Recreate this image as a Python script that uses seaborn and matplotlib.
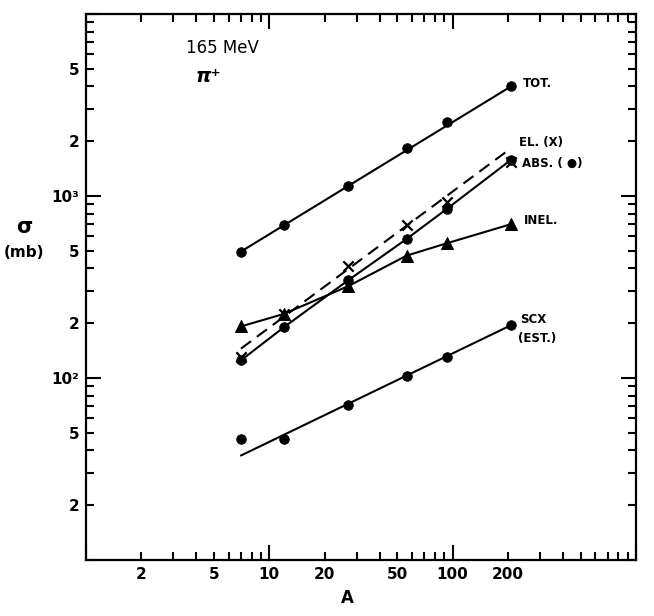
import numpy as np
import pandas as pd
import matplotlib
matplotlib.use("Agg")
import matplotlib.pyplot as plt
import matplotlib.ticker as mticker
import seaborn as sns

# ---- data ----
A = [7, 12, 27, 56, 93, 208]
tot = [495, 690, 1140, 1840, 2550, 4000]
el = [130, 225, 410, 690, 930, 1530]
absn = [125, 190, 345, 580, 850, 1580]
inel = [192, 225, 320, 470, 550, 700]
scx = [46, 46, 71, 103, 130, 195]

fit_A = [7, 208]
tot_fit = [495, 4000]
el_fit = [145, 1830]
scx_fit = [37.5, 195]

x_major_labels = {10: "10", 100: "100"}
x_minor_labels = {2: "2", 5: "5", 20: "20", 50: "50", 200: "200"}
y_major_labels = {100: "10²", 1000: "10³"}
y_minor_labels = {20: "2", 50: "5", 200: "2", 500: "5", 2000: "2", 5000: "5"}

sns.set_style("ticks")
plt.rcParams["font.family"] = ["DejaVu Sans"]
plt.rcParams["font.weight"] = "bold"
plt.rcParams["text.color"] = "black"
plt.rcParams["xtick.color"] = "black"
plt.rcParams["ytick.color"] = "black"
plt.rcParams["xtick.labelcolor"] = "black"
plt.rcParams["ytick.labelcolor"] = "black"
plt.rcParams["axes.labelcolor"] = "black"

fig = plt.figure(figsize=(6.54, 6.16), dpi=100)
ax = fig.add_axes([0.1315, 0.0909, 0.841, 0.8864])
ax.set_xscale("log")
ax.set_yscale("log")

df = pd.DataFrame({"A": A, "tot": tot, "el": el, "abs": absn, "inel": inel, "scx": scx})
fit = pd.DataFrame({"A": fit_A, "tot": tot_fit, "el": el_fit, "scx": scx_fit})

lw = 1.5
kw_line = dict(color="black", linewidth=lw, estimator=None, sort=False, ax=ax, legend=False)

# fitted lines
sns.lineplot(data=fit, x="A", y="tot", **kw_line)
sns.lineplot(data=fit, x="A", y="scx", **kw_line)
sns.lineplot(data=fit, x="A", y="el", dashes=False, **kw_line)
ax.lines[-1].set_linestyle((0, (6, 3.5)))
# connected lines
sns.lineplot(data=df, x="A", y="abs", **kw_line)
sns.lineplot(data=df, x="A", y="inel", **kw_line)

# markers
sk = dict(color="black", ax=ax, legend=False, zorder=5)
sns.scatterplot(data=df, x="A", y="tot", marker="o", s=48, edgecolor="black", **sk)
sns.scatterplot(data=df, x="A", y="abs", marker="o", s=48, edgecolor="black", **sk)
sns.scatterplot(data=df, x="A", y="scx", marker="o", s=48, edgecolor="black", **sk)
sns.scatterplot(data=df, x="A", y="inel", marker="^", s=75, edgecolor="black", **sk)
sns.scatterplot(data=df, x="A", y="el", marker="x", s=55, linewidth=1.6, **sk)

ax.set_xlim(1, 1000)
ax.set_ylim(10, 10000)

# ticks
ax.xaxis.set_major_locator(mticker.LogLocator(base=10, numticks=10))
ax.xaxis.set_minor_locator(mticker.LogLocator(base=10, subs=np.arange(2, 10), numticks=20))
ax.yaxis.set_major_locator(mticker.LogLocator(base=10, numticks=10))
ax.yaxis.set_minor_locator(mticker.LogLocator(base=10, subs=np.arange(2, 10), numticks=20))

def fmt(d):
    def f(v, pos):
        for k, s in d.items():
            if abs(v - k) / k < 1e-6:
                return s
        return ""
    return mticker.FuncFormatter(f)

ax.xaxis.set_major_formatter(fmt(x_major_labels))
ax.xaxis.set_minor_formatter(fmt(x_minor_labels))
ax.yaxis.set_major_formatter(fmt(y_major_labels))
ax.yaxis.set_minor_formatter(fmt(y_minor_labels))

ax.tick_params(which="both", direction="in", top=True, right=True, width=1.5, color="black",
               labelcolor="black", labelsize=11, pad=5)
ax.tick_params(which="major", length=11)
ax.tick_params(which="minor", length=6)
for lab in ax.get_xticklabels(which="both") + ax.get_yticklabels(which="both"):
    lab.set_fontweight("bold")

for sp in ax.spines.values():
    sp.set_linewidth(1.6)
    sp.set_color("black")

ax.set_xlabel("")
ax.set_ylabel("")
ax.text(0.475, -0.07, "A", transform=ax.transAxes, ha="center", va="center",
        fontsize=12, fontweight="bold", color="black")
ax.text(-0.113, 0.610, "σ", transform=ax.transAxes, ha="center", va="center",
        fontsize=15, color="black")
ax.text(-0.113, 0.564, "(mb)", transform=ax.transAxes, ha="center", va="center",
        fontsize=11, fontweight="bold", color="black")

# annotations
tk = dict(transform=ax.transAxes, ha="left", va="center", fontsize=8.5, fontweight="bold",
          color="black")
ax.text(0.794, 0.873, "TOT.", **tk)
ax.text(0.788, 0.765, "EL. (X)", **tk)
ax.text(0.792, 0.726, "ABS. ( ●)", **tk)
ax.text(0.796, 0.621, "INEL.", **tk)
ax.text(0.790, 0.440, "SCX", **tk)
ax.text(0.785, 0.405, "(EST.)", **tk)
ax.text(0.182, 0.938, "165 MeV", transform=ax.transAxes, ha="left", va="center",
        fontsize=12, fontweight="normal", color="black")
ax.text(0.199, 0.886, "π⁺", transform=ax.transAxes, ha="left", va="center",
        fontsize=14, fontstyle="italic", color="black")

fig.savefig("out.png", dpi=100)
